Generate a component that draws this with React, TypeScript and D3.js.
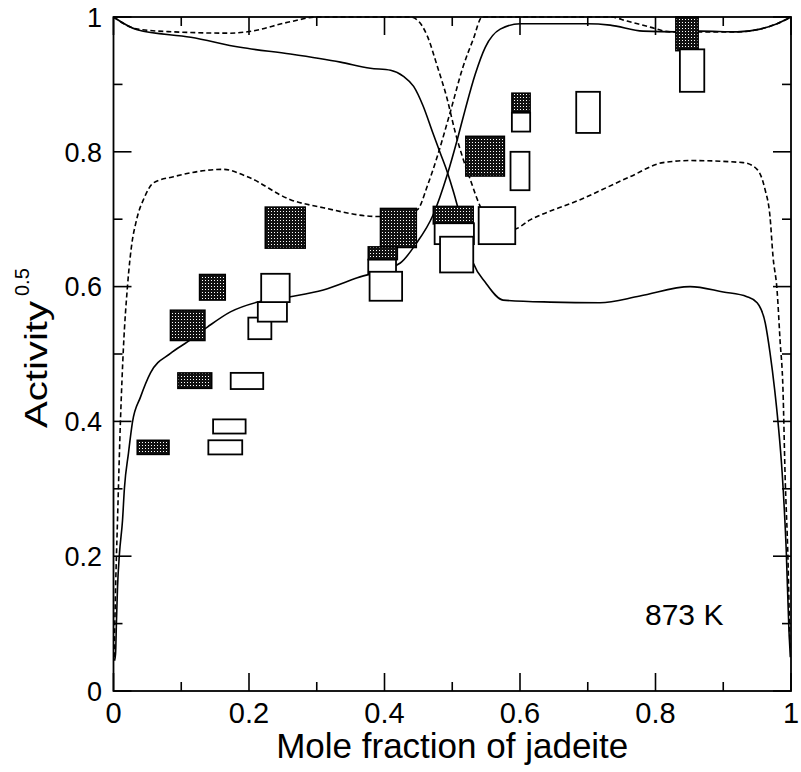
import React from 'react';
import * as d3 from 'd3';

const W = 801;
const H = 772;

// solid curve falling from 1 (left) to 0 (right)
const solidFallX = [0, 0.035, 0.114, 0.187, 0.261, 0.335, 0.379, 0.409, 0.428, 0.443, 0.457, 0.471, 0.482, 0.493, 0.502, 0.515, 0.531, 0.549, 0.575, 0.645, 0.718, 0.777, 0.851, 0.9, 0.935, 0.95, 0.962, 0.969, 0.976, 0.981, 0.987, 0.993, 0.997, 0.999];
const solidFallY = [1.0, 0.981, 0.97, 0.955, 0.945, 0.933, 0.924, 0.921, 0.912, 0.897, 0.868, 0.829, 0.799, 0.769, 0.74, 0.692, 0.635, 0.606, 0.58, 0.577, 0.576, 0.586, 0.6, 0.592, 0.585, 0.576, 0.546, 0.502, 0.446, 0.397, 0.323, 0.208, 0.089, 0.05];

// solid curve rising from ~0 (left) to 1 (right)
const solidRiseX = [0.0015, 0.003, 0.0044, 0.0059, 0.0088, 0.0133, 0.0162, 0.0221, 0.028, 0.0398, 0.0546, 0.0841, 0.1091, 0.1386, 0.1726, 0.2124, 0.2611, 0.3097, 0.3599, 0.4233, 0.4454, 0.472, 0.4926, 0.5074, 0.5192, 0.5339, 0.5487, 0.5708, 0.6003, 0.6593, 0.6991, 0.733, 0.7817, 0.8319, 0.8658, 0.9204, 0.9543, 0.9794, 1.0];
const solidRiseY = [0.045, 0.055, 0.104, 0.153, 0.204, 0.253, 0.302, 0.353, 0.399, 0.436, 0.472, 0.501, 0.518, 0.54, 0.5625, 0.577, 0.585, 0.595, 0.613, 0.635, 0.662, 0.707, 0.766, 0.818, 0.863, 0.915, 0.955, 0.982, 0.99, 0.99, 0.99, 0.988, 0.979, 0.978, 0.979, 0.978, 0.982, 0.99, 1.0];

// dashed curve falling
const dashFallX = [0, 0.0354, 0.0885, 0.1726, 0.1976, 0.2611, 0.3009, 0.32, 0.438, 0.45, 0.4631, 0.4779, 0.4926, 0.5044, 0.5162, 0.5265, 0.5413, 0.556, 0.5752, 0.59, 0.615, 0.6888, 0.7625, 0.8112, 0.851, 0.9292, 0.9499, 0.9617, 0.969, 0.9735, 0.9794, 0.9838, 0.9882, 0.9912, 0.9956, 0.9985];
const dashFallY = [1.0, 0.982, 0.978, 0.976, 0.978, 0.993, 1.0, 1.0, 1.0, 0.994, 0.972, 0.927, 0.878, 0.829, 0.789, 0.759, 0.719, 0.695, 0.685, 0.685, 0.699, 0.729, 0.763, 0.784, 0.787, 0.784, 0.774, 0.744, 0.704, 0.644, 0.595, 0.521, 0.446, 0.323, 0.193, 0.06];

// dashed curve rising
const dashRiseX = [0.001, 0.003, 0.0059, 0.0103, 0.0147, 0.0206, 0.028, 0.0324, 0.0369, 0.0442, 0.059, 0.0885, 0.1622, 0.1976, 0.2611, 0.3097, 0.3894, 0.4233, 0.4484, 0.4631, 0.4779, 0.4971, 0.5162, 0.531, 0.5442, 0.733, 0.7581, 0.792, 0.8215, 0.8658, 0.9204, 0.9543, 0.9794, 1.0];
const dashRiseY = [0.05, 0.149, 0.253, 0.402, 0.51, 0.6, 0.67, 0.692, 0.71, 0.729, 0.754, 0.763, 0.774, 0.763, 0.729, 0.717, 0.704, 0.707, 0.714, 0.749, 0.793, 0.859, 0.927, 0.967, 1.0, 1.0, 0.994, 0.985, 0.978, 0.978, 0.978, 0.982, 0.99, 1.0];

// error boxes [xMin, xMax, yMin, yMax]
const filledBoxes: [number, number, number, number][] = [
  [0.035, 0.082, 0.351, 0.372],
  [0.095, 0.145, 0.449, 0.472],
  [0.084, 0.135, 0.52, 0.565],
  [0.127, 0.165, 0.58, 0.618],
  [0.224, 0.283, 0.657, 0.718],
  [0.394, 0.447, 0.658, 0.716],
  [0.376, 0.419, 0.64, 0.659],
  [0.472, 0.531, 0.693, 0.719],
  [0.52, 0.577, 0.764, 0.823],
  [0.588, 0.615, 0.859, 0.887],
  [0.83, 0.863, 0.95, 1.0],
];
const openBoxes: [number, number, number, number][] = [
  [0.14, 0.19, 0.351, 0.372],
  [0.147, 0.195, 0.382, 0.403],
  [0.173, 0.221, 0.448, 0.472],
  [0.199, 0.233, 0.522, 0.554],
  [0.213, 0.256, 0.548, 0.577],
  [0.218, 0.26, 0.577, 0.619],
  [0.376, 0.417, 0.619, 0.64],
  [0.378, 0.426, 0.579, 0.622],
  [0.474, 0.532, 0.663, 0.694],
  [0.482, 0.531, 0.621, 0.674],
  [0.539, 0.593, 0.663, 0.718],
  [0.586, 0.614, 0.743, 0.8],
  [0.588, 0.615, 0.83, 0.858],
  [0.683, 0.718, 0.828, 0.889],
  [0.836, 0.872, 0.889, 0.952],
];

const majorTicks = [0, 0.2, 0.4, 0.6, 0.8, 1];
const minorTicks = [0.1, 0.3, 0.5, 0.7, 0.9];
const xTickLabels = ['0', '0.2', '0.4', '0.6', '0.8', '1'];
const yTickLabels = ['0', '0.2', '0.4', '0.6', '0.8', '1'];

const FONT = '"Liberation Sans", Arial, Helvetica, sans-serif';

export default function App() {
  const x = d3.scaleLinear().domain([0, 1]).range([113.5, 791]);
  const y = d3.scaleLinear().domain([0, 1]).range([691, 17]);

  const line = d3
    .line<[number, number]>()
    .x((d) => x(d[0]))
    .y((d) => y(d[1]))
    .curve(d3.curveMonotoneX);

  const curves = [
    { xs: solidFallX, ys: solidFallY, dash: undefined },
    { xs: solidRiseX, ys: solidRiseY, dash: undefined },
    { xs: dashFallX, ys: dashFallY, dash: '5,3' },
    { xs: dashRiseX, ys: dashRiseY, dash: '5,3' },
  ];

  const major = 18;
  const minor = 9;
  const [x0, x1] = x.range();
  const [y0, y1] = y.range();

  return (
    <>
      <style>{'body{margin:0}'}</style>
      <svg width={W} height={H} style={{ display: 'block', background: '#fff' }} fontFamily={FONT}>
        <defs>
          <pattern id="dots" patternUnits="userSpaceOnUse" width={3} height={3}>
            <rect width={3} height={3} fill="#111" />
            <rect x={1} y={1} width={1} height={1} fill="#fff" />
          </pattern>
        </defs>

        {curves.map((c, i) => (
          <path
            key={i}
            d={line(c.xs.map((v, j) => [v, c.ys[j]] as [number, number])) || ''}
            fill="none"
            stroke="#000"
            strokeWidth={1.6}
            strokeDasharray={c.dash}
          />
        ))}

        {filledBoxes.map((b, i) => (
          <rect
            key={'f' + i}
            x={x(b[0])}
            y={y(b[3])}
            width={x(b[1]) - x(b[0])}
            height={y(b[2]) - y(b[3])}
            fill="url(#dots)"
            stroke="#000"
            strokeWidth={1.5}
          />
        ))}
        {openBoxes.map((b, i) => (
          <rect
            key={'o' + i}
            x={x(b[0])}
            y={y(b[3])}
            width={x(b[1]) - x(b[0])}
            height={y(b[2]) - y(b[3])}
            fill="#fff"
            stroke="#000"
            strokeWidth={1.8}
          />
        ))}

        {/* frame */}
        <rect x={x0} y={y1} width={x1 - x0} height={y0 - y1} fill="none" stroke="#000" strokeWidth={1.8} />

        {/* ticks on all four sides, pointing inward */}
        {majorTicks.concat(minorTicks).map((t, i) => {
          const len = majorTicks.includes(t) ? major : minor;
          return (
            <g key={'t' + i} stroke="#000" strokeWidth={1.6}>
              <line x1={x(t)} x2={x(t)} y1={y0} y2={y0 - len} />
              <line x1={x(t)} x2={x(t)} y1={y1} y2={y1 + len} />
              <line x1={x0} x2={x0 + len} y1={y(t)} y2={y(t)} />
              <line x1={x1} x2={x1 - len} y1={y(t)} y2={y(t)} />
            </g>
          );
        })}

        {majorTicks.map((t, i) => (
          <text key={'xl' + i} x={x(t)} y={723} fontSize={29} textAnchor="middle" fill="#000">
            {xTickLabels[i]}
          </text>
        ))}
        {majorTicks.map((t, i) => (
          <text key={'yl' + i} x={102} y={y(t)} dy="0.36em" fontSize={27} textAnchor="end" fill="#000">
            {yTickLabels[i]}
          </text>
        ))}

        <text x={(x0 + x1) / 2} y={758} fontSize={35} textAnchor="middle" fill="#000">
          Mole fraction of jadeite
        </text>

        <g transform="translate(47,428) rotate(-90)">
          <text x={0} y={0} fontSize={31} textLength={127} lengthAdjust="spacingAndGlyphs" fill="#000">
            Activity
          </text>
          <text x={132} y={-18} fontSize={20} fill="#000">
            0.5
          </text>
        </g>

        <text x={645} y={625} fontSize={30} fill="#000">
          873 K
        </text>
      </svg>
    </>
  );
}
